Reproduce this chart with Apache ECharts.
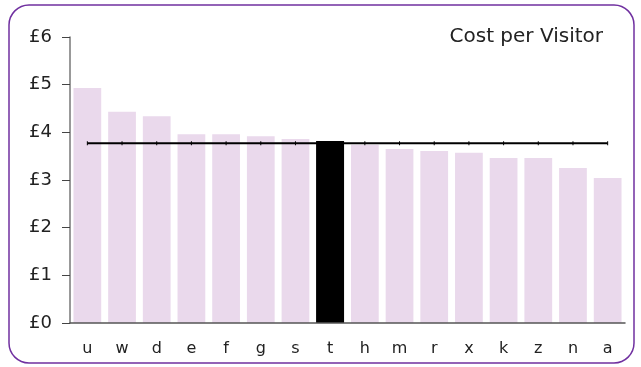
<!DOCTYPE html>
<html>
<head>
<meta charset="utf-8">
<script src="https://cdn.jsdelivr.net/npm/echarts@6/dist/echarts.min.js"></script>
<style>
  html, body { margin: 0; padding: 0; background: #fff; }
  #chart { width: 641px; height: 367px; }
</style>
</head>
<body>
<div id="chart"></div>
<script>
// categories and values
var categories = ['u', 'w', 'd', 'e', 'f', 'g', 's', 't', 'h', 'm', 'r', 'x', 'k', 'z', 'n', 'a'];
var cost = [4.93, 4.43, 4.34, 3.96, 3.96, 3.92, 3.86, 3.82, 3.74, 3.65, 3.61, 3.57, 3.46, 3.46, 3.25, 3.04];
var average = [3.77, 3.77, 3.77, 3.77, 3.77, 3.77, 3.77, 3.77, 3.77, 3.77, 3.77, 3.77, 3.77, 3.77, 3.77, 3.77];
var highlight = 't';
var yTicks = [0, 1, 2, 3, 4, 5, 6];

var chart = echarts.init(document.getElementById('chart'));

var barData = cost.map(function (v, i) {
  return {
    value: v,
    itemStyle: { color: categories[i] == highlight ? '#000000' : '#EAD9EC' }
  };
});

var option = {
  animation: false,
  backgroundColor: '#fff',
  textStyle: { fontFamily: 'DejaVu Sans' },
  graphic: [{
    type: 'rect',
    shape: { x: 9, y: 5, width: 625, height: 358, r: 20 },
    style: { fill: 'none', stroke: '#7030A0', lineWidth: 1.5 },
    z: 100
  }],
  title: {
    text: 'Cost per Visitor',
    right: 33,
    top: 22,
    textStyle: { fontSize: 20, fontWeight: 'normal', color: '#222', fontFamily: 'DejaVu Sans' }
  },
  grid: { left: 70, right: 16, top: 37, bottom: 44 },
  xAxis: {
    type: 'category',
    data: categories,
    z: 10,
    axisLine: { lineStyle: { color: '#555', width: 1.5 } },
    axisTick: { show: false },
    axisLabel: { color: '#222', fontSize: 16, margin: 18 }
  },
  yAxis: {
    type: 'value',
    min: yTicks[0],
    max: yTicks[yTicks.length - 1],
    interval: 1,
    z: 10,
    splitLine: { show: false },
    axisLine: { show: true, lineStyle: { color: '#777', width: 1.5 } },
    axisTick: { show: true, length: 8, lineStyle: { color: '#444' } },
    axisLabel: {
      color: '#222', fontSize: 18, margin: 18,
      formatter: function (v) { return '£' + v; }
    }
  },
  series: [{
    type: 'bar',
    data: barData,
    barCategoryGap: '20%',
    z: 2
  }, {
    type: 'line',
    data: average,
    symbol: 'rect',
    symbolSize: [1, 4],
    itemStyle: { color: '#000' },
    lineStyle: { color: '#000', width: 2 },
    z: 3
  }, {
    // highlighted bar drawn over the average line
    type: 'bar',
    data: cost.map(function (v, i) { return categories[i] == highlight ? v : '-'; }),
    barGap: '-100%',
    barCategoryGap: '20%',
    itemStyle: { color: '#000' },
    z: 4
  }]
};

chart.setOption(option);
</script>
</body>
</html>
